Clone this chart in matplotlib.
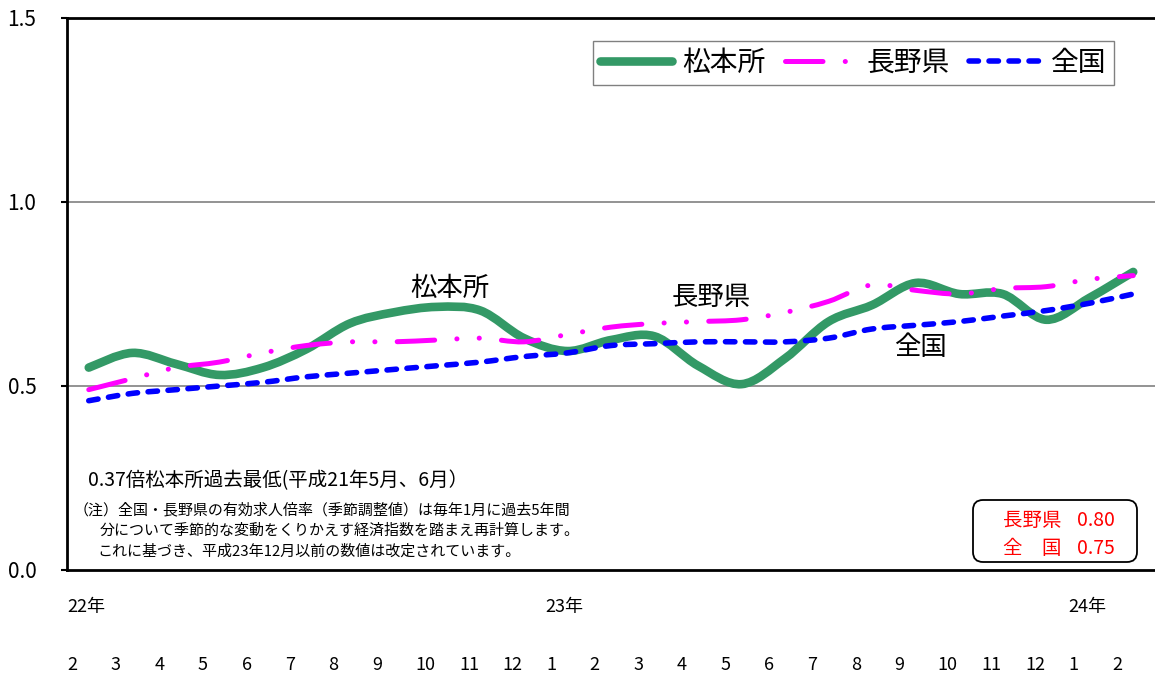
import matplotlib
matplotlib.use('Agg')
import matplotlib.pyplot as plt
from matplotlib.path import Path
from matplotlib.patches import PathPatch, FancyBboxPatch
from matplotlib.lines import Line2D
from matplotlib import transforms

plt.rcParams['font.family'] = ['Noto Sans CJK JP', 'DejaVu Sans']
plt.rcParams['lines.scale_dashes'] = False

# month labels (H22.2 - H24.2)
months = ['2', '3', '4', '5', '6', '7', '8', '9', '10', '11', '12',
          '1', '2', '3', '4', '5', '6', '7', '8', '9', '10', '11', '12',
          '1', '2']
year_idx = [0, 11, 23]
year_labels = ['22年', '23年', '24年']

# 有効求人倍率
matsumoto = [0.55, 0.59, 0.56, 0.53, 0.55, 0.60, 0.67, 0.70, 0.715, 0.705, 0.63, 0.595,
             0.625, 0.635, 0.555, 0.505, 0.575, 0.675, 0.72, 0.78, 0.75, 0.75, 0.68, 0.74, 0.81]
nagano = [0.49, 0.52, 0.55, 0.565, 0.59, 0.61, 0.62, 0.62, 0.625, 0.63, 0.62, 0.64,
          0.66, 0.67, 0.675, 0.68, 0.70, 0.73, 0.775, 0.76, 0.75, 0.765, 0.77, 0.79, 0.80]
zenkoku = [0.46, 0.48, 0.49, 0.50, 0.51, 0.525, 0.535, 0.545, 0.555, 0.565, 0.58, 0.59,
           0.61, 0.615, 0.62, 0.62, 0.62, 0.63, 0.655, 0.665, 0.675, 0.69, 0.705, 0.725, 0.75]

GREEN = '#339966'
PINK = '#FF00FF'
BLUE = '#0000FF'
PINK_LS = (0, (27, 16, 0.1, 16, 0.1, 16))
BLUE_LS = (0, (6.8, 7.6))


def smooth_path(ys):
    # excel-like smoothed line: catmull-rom segments as cubic bezier
    xs = list(range(len(ys)))
    pts = list(zip(xs, ys))
    verts = [pts[0]]
    codes = [Path.MOVETO]
    n = len(pts)
    for k in range(n - 1):
        p0 = pts[max(k - 1, 0)]
        p1 = pts[k]
        p2 = pts[k + 1]
        p3 = pts[min(k + 2, n - 1)]
        c1 = (p1[0] + (p2[0] - p0[0]) / 6, p1[1] + (p2[1] - p0[1]) / 6)
        c2 = (p2[0] - (p3[0] - p1[0]) / 6, p2[1] - (p3[1] - p1[1]) / 6)
        verts += [c1, c2, p2]
        codes += [Path.CURVE4] * 3
    return Path(verts, codes)


fig = plt.figure(figsize=(11.55, 6.75), dpi=100)
ax = fig.add_axes([67 / 1155, 105 / 675, 1088 / 1155, 552 / 675])
ax.set_xlim(-0.5, 24.5)
ax.set_ylim(0, 1.5)

styles = [
    (matsumoto, GREEN, 6.2, '-', 2),
    (nagano, PINK, 3.6, PINK_LS, 3),
    (zenkoku, BLUE, 4.0, BLUE_LS, 4),
]
for ys, col, lw, ls, z in styles:
    patch = PathPatch(smooth_path(ys), facecolor='none', edgecolor=col, lw=lw,
                      linestyle=ls, capstyle='round', joinstyle='round', zorder=z)
    ax.add_patch(patch)

# grid
for g in [0.5, 1.0]:
    ax.axhline(g, color='#808080', lw=1.2, zorder=1)

for s in ['top', 'left', 'bottom']:
    ax.spines[s].set_linewidth(2.0)
    ax.spines[s].set_color('black')
ax.spines['right'].set_visible(False)

ax.set_yticks([0.0, 0.5, 1.0, 1.5])
ax.set_yticklabels(['0.0', '0.5', '1.0', '1.5'])
ax.tick_params(axis='y', direction='out', length=4, width=1.5, pad=18, labelsize=15)
ax.set_xticks([])

# month / year labels
trans = transforms.blended_transform_factory(ax.transData, fig.transFigure)
for i, m in enumerate(months):
    ax.text(i - 0.49, 1 - 665 / 675, m, transform=trans, ha='left', va='center',
            fontsize=13, clip_on=False)
for i, lab in zip(year_idx, year_labels):
    ax.text(i - 0.5, 1 - 607 / 675, lab, transform=trans, ha='left', va='center',
            fontsize=13, clip_on=False)

# series labels
ax.text(8.3, 0.765, '松本所', ha='center', va='center', fontsize=19)
ax.text(14.3, 0.74, '長野県', ha='center', va='center', fontsize=19)
ax.text(19.1, 0.605, '全国', ha='center', va='center', fontsize=19)

# legend
handles = [
    Line2D([], [], color=GREEN, lw=6.2, solid_capstyle='round'),
    Line2D([], [], color=PINK, lw=3.6, linestyle=PINK_LS, dash_capstyle='round'),
    Line2D([], [], color=BLUE, lw=4.0, linestyle=BLUE_LS, dash_capstyle='round'),
]
leg = ax.legend(handles, ['松本所', '長野県', '全国'], ncol=3, loc='upper right',
                bbox_to_anchor=(0.962, 0.958), borderaxespad=0, fontsize=20,
                handlelength=2.6, handletextpad=0.35, columnspacing=0.7,
                borderpad=0.25, fancybox=False, framealpha=1)
leg.get_frame().set_edgecolor('#808080')
leg.get_frame().set_linewidth(1.0)
leg.set_zorder(6)

# notes
fig.text(88 / 1155, 1 - 481 / 675, '0.37倍松本所過去最低(平成21年5月、6月）',
         ha='left', va='center', fontsize=14)
notes = [
    (74, 510, '（注）全国・長野県の有効求人倍率（季節調整値）は毎年1月に過去5年間'),
    (100, 531, '分について季節的な変動をくりかえす経済指数を踏まえ再計算します。'),
    (97, 552, 'これに基づき、平成23年12月以前の数値は改定されています。'),
]
for x, y, t in notes:
    fig.text(x / 1155, 1 - y / 675, t, ha='left', va='center', fontsize=10.8)

# latest values box
box = FancyBboxPatch((9.73, 1.13), 1.64, 0.62, boxstyle='round,pad=0,rounding_size=0.1',
                     transform=fig.dpi_scale_trans, facecolor='white', edgecolor='black',
                     lw=1.3, zorder=5)
fig.add_artist(box)
box_rows = [(520, '長野県', nagano[-1]), (549, '全　国', zenkoku[-1])]
for y, lab, v in box_rows:
    fig.text(1003 / 1155, 1 - y / 675, lab, color='red', ha='left', va='center',
             fontsize=14, zorder=7)
    fig.text(1077 / 1155, 1 - y / 675, '%.2f' % v, color='red', ha='left', va='center',
             fontsize=14, zorder=7)

fig.savefig('out.png', dpi=100)
